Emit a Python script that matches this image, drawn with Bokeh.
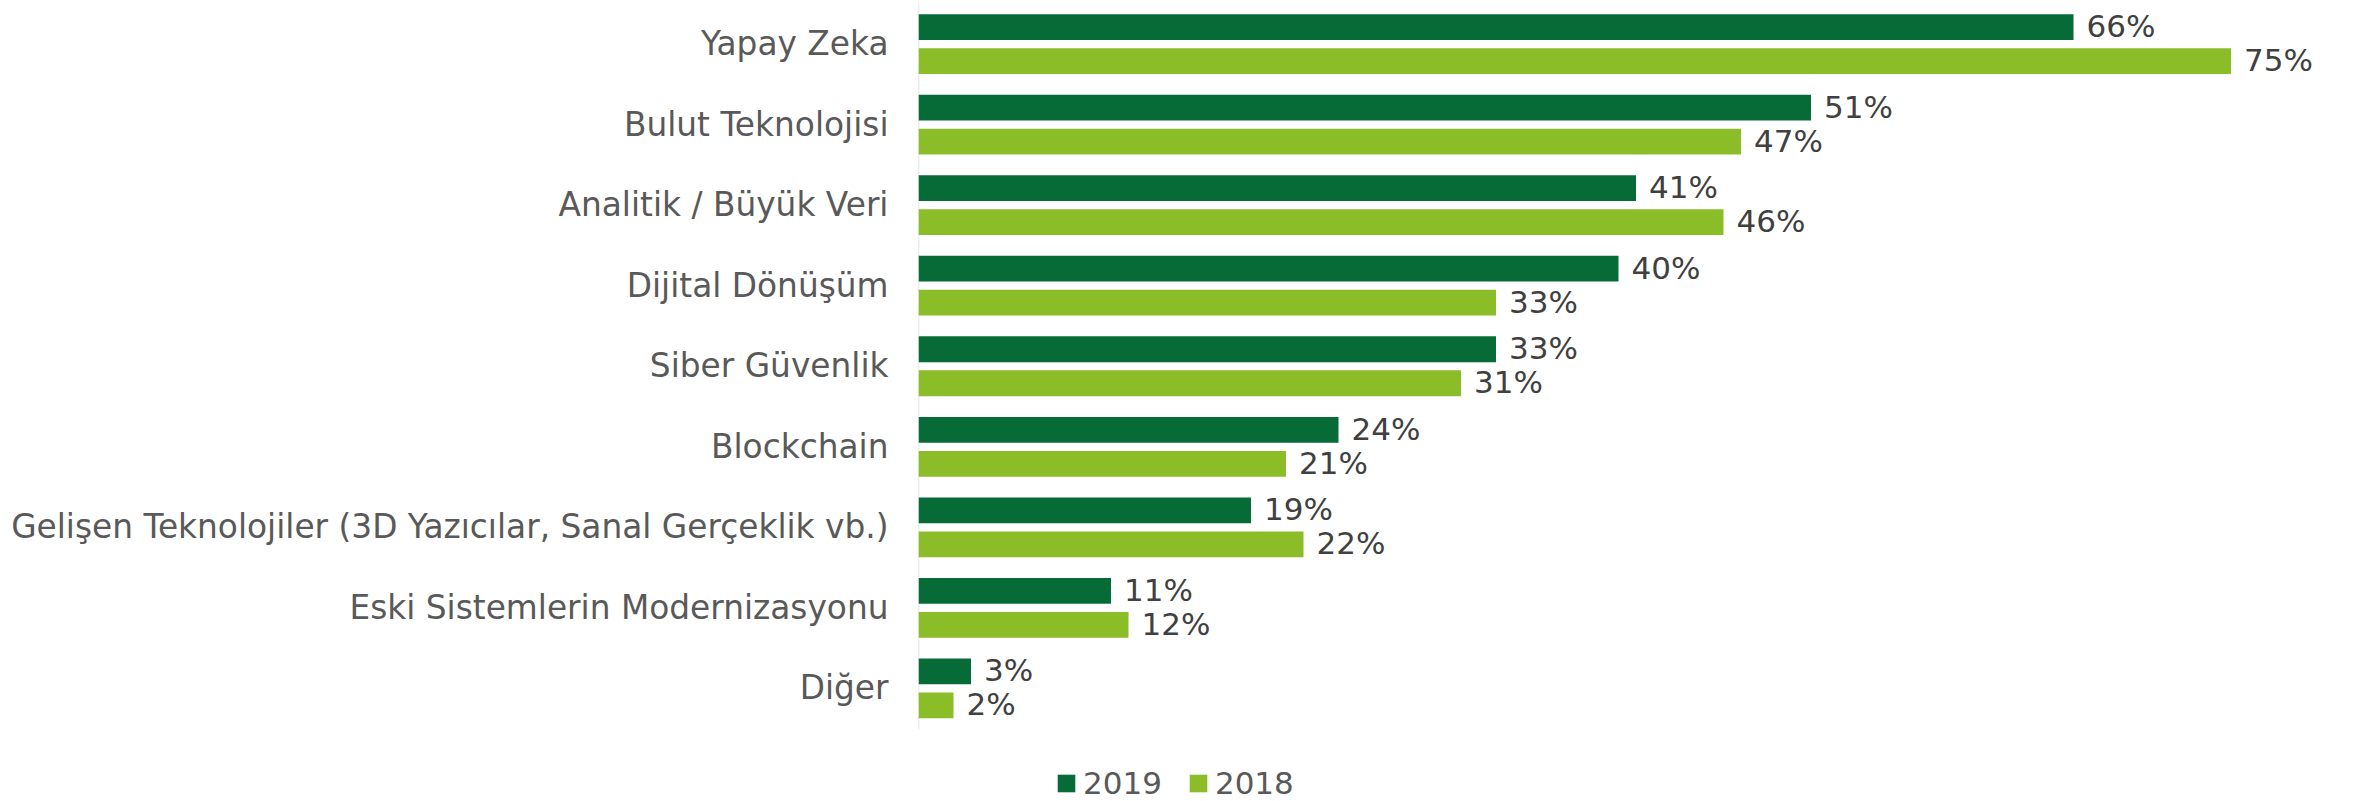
import numpy as np
from bokeh.plotting import figure
from bokeh.models import ColumnDataSource, Range1d, FixedTicker, Legend, LegendItem, LabelSet
from bokeh.core.properties import value
from bokeh.embed import file_html
from bokeh.resources import INLINE

categories = ["Yapay Zeka", "Bulut Teknolojisi", "Analitik / Büyük Veri", "Dijital Dönüşüm",
              "Siber Güvenlik", "Blockchain",
              "Gelişen Teknolojiler (3D Yazıcılar, Sanal Gerçeklik vb.)",
              "Eski Sistemlerin Modernizasyonu", "Diğer"]
v2019 = [66, 51, 41, 40, 33, 24, 19, 11, 3]
v2018 = [75, 47, 46, 33, 31, 21, 22, 12, 2]
series_names = ["2019", "2018"]
colors = ["#076B38", "#8ABD28"]

pos = np.arange(len(categories))
dodge = 0.211
bar_h = 0.32

src19 = ColumnDataSource(dict(y=pos - dodge, v=v2019, lab=[f"{v}%" for v in v2019]))
src18 = ColumnDataSource(dict(y=pos + dodge, v=v2018, lab=[f"{v}%" for v in v2018]))

p = figure(width=2355, height=801, output_backend="svg", toolbar_location=None,
           x_range=Range1d(0, 80), y_range=Range1d(9.403, -0.503),
           min_border_left=918, min_border_right=37, min_border_top=3, min_border_bottom=0)
p.outline_line_color = None
p.grid.visible = False
p.xaxis.visible = False

# category axis line spanning only the category band
p.segment(x0=[0], x1=[0], y0=[pos[0] - 0.5], y1=[pos[-1] + 0.5],
          line_color="#D9D9D9", line_width=1.5)

r19 = p.hbar(y="y", right="v", left=0, height=bar_h, source=src19, color=colors[0], line_color=None)
r18 = p.hbar(y="y", right="v", left=0, height=bar_h, source=src18, color=colors[1], line_color=None)

for s in (src19, src18):
    p.add_layout(LabelSet(x="v", y="y", text="lab", source=s, x_offset=13, y_offset=1,
                          text_baseline="middle", text_font=value("DejaVu Sans"),
                          text_font_size="31px", text_color="#404040"))

ax = p.yaxis[0]
ax.ticker = FixedTicker(ticks=list(pos))
ax.major_label_overrides = {int(i): c for i, c in zip(pos, categories)}
ax.major_tick_line_color = None
ax.minor_tick_line_color = None
ax.axis_line_color = None
ax.major_label_standoff = 24
ax.major_label_text_font = "DejaVu Sans"
ax.major_label_text_font_size = "32.8px"
ax.major_label_text_color = "#595959"

legend = Legend(items=[LegendItem(label=series_names[0], renderers=[r19]),
                       LegendItem(label=series_names[1], renderers=[r18])],
                orientation="horizontal", location=(137, 0),
                glyph_width=22, glyph_height=22, label_standoff=6, spacing=25,
                padding=0, margin=0, border_line_color=None, background_fill_alpha=0,
                label_text_font="DejaVu Sans", label_text_font_size="31px",
                label_text_color="#595959")
p.add_layout(legend, "center")

open("out.html", "w").write(file_html(p, INLINE))
